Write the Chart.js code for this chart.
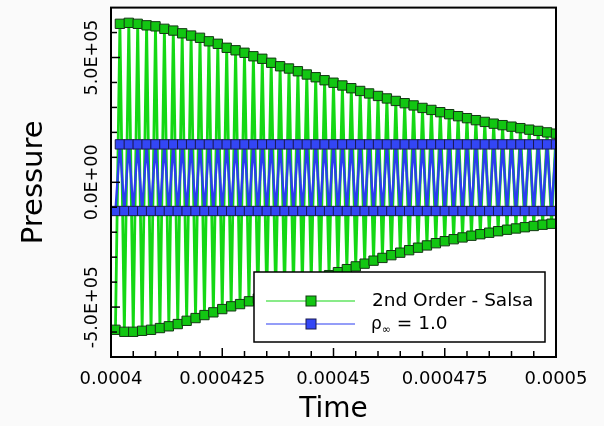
<!DOCTYPE html>
<html>
<head>
<meta charset="utf-8">
<script src="https://cdn.jsdelivr.net/npm/chart.js@4.4.1/dist/chart.umd.min.js"></script>
<style>
  html, body { margin: 0; padding: 0; background: #fafafa; }
  canvas { display: block; }
</style>
</head>
<body>
<canvas id="pressureChart" width="604" height="426"></canvas>
<script>
// sample times, microseconds
const troughTimes = [401, 403, 405, 407, 409, 411, 413, 415, 417, 419,
                     421, 423, 425, 427, 429, 431, 433, 435, 437, 439,
                     441, 443, 445, 447, 449, 451, 453, 455, 457, 459,
                     461, 463, 465, 467, 469, 471, 473, 475, 477, 479,
                     481, 483, 485, 487, 489, 491, 493, 495, 497, 499];
const peakTimes   = [402, 404, 406, 408, 410, 412, 414, 416, 418, 420,
                     422, 424, 426, 428, 430, 432, 434, 436, 438, 440,
                     442, 444, 446, 448, 450, 452, 454, 456, 458, 460,
                     462, 464, 466, 468, 470, 472, 474, 476, 478, 480,
                     482, 484, 486, 488, 490, 492, 494, 496, 498, 500];

// 2nd Order - Salsa
const greenPeaks = [635000, 639000, 635000, 629000, 625000, 615000, 608000, 597000, 588000, 579000,
                    565000, 555000, 539000, 529000, 519000, 505000, 495000, 479000, 465000, 456000,
                    445000, 432000, 421000, 409000, 399000, 388000, 377000, 366000, 356000, 346000,
                    336000, 326000, 317000, 308000, 298000, 290000, 281000, 273000, 265000, 257000,
                    249000, 242000, 235000, 229000, 223000, 217000, 211000, 206000, 200000, 195000];
const greenTroughs = [-591000, -599000, -599000, -595000, -591000, -584000, -577000, -568000, -555000, -544000,
                      -532000, -521000, -508000, -497000, -488000, -477000, -466000, -454000, -443000, -431000,
                      -420000, -408000, -396000, -384000, -372000, -360000, -348000, -337000, -326000, -314000,
                      -303000, -292000, -282000, -272000, -262000, -253000, -244000, -236000, -228000, -221000,
                      -214000, -208000, -202000, -196000, -190000, -185000, -180000, -175000, -170000, -166000];

// rho_inf = 1.0
const bluePeaks = [152000, 152000, 152000, 152000, 152000, 152000, 152000, 152000, 152000, 152000,
                   152000, 152000, 152000, 152000, 152000, 152000, 152000, 152000, 152000, 152000,
                   152000, 152000, 152000, 152000, 152000, 152000, 152000, 152000, 152000, 152000,
                   152000, 152000, 152000, 152000, 152000, 152000, 152000, 152000, 152000, 152000,
                   152000, 152000, 152000, 152000, 152000, 152000, 152000, 152000, 152000, 152000];
const blueTroughs = [-115000, -115000, -115000, -115000, -115000, -115000, -115000, -115000, -115000, -115000,
                     -115000, -115000, -115000, -115000, -115000, -115000, -115000, -115000, -115000, -115000,
                     -115000, -115000, -115000, -115000, -115000, -115000, -115000, -115000, -115000, -115000,
                     -115000, -115000, -115000, -115000, -115000, -115000, -115000, -115000, -115000, -115000,
                     -115000, -115000, -115000, -115000, -115000, -115000, -115000, -115000, -115000, -115000];

const seriesNames = ['2nd Order - Salsa', 'ρ∞ = 1.0'];
const xTickValues = [0.0004, 0.000425, 0.00045, 0.000475, 0.0005];
const xTickLabels = ['0.0004', '0.000425', '0.00045', '0.000475', '0.0005'];
const yTickValues = [-500000, 0, 500000];
const yTickLabels = ['-5.0E+05', '0.0E+00', '5.0E+05'];

const FONT = '"DejaVu Sans", sans-serif';
const green = '#14d814';
const blue = '#2b3cf2';

function zigzag(tLow, low, tHigh, high) {
    const pts = [];
    for (let i = 0; i < tLow.length; i++) {
        pts.push({ x: tLow[i] * 1e-6, y: low[i] });
        if (i < tHigh.length) pts.push({ x: tHigh[i] * 1e-6, y: high[i] });
    }
    return pts;
}

// axis frame, inward ticks, rotated y labels and the boxed legend
const framePlugin = {
    id: 'frame',
    beforeDraw(chart) {
        const { ctx, chartArea: a } = chart;
        ctx.save();
        ctx.fillStyle = '#fafafa';
        ctx.fillRect(0, 0, chart.width, chart.height);
        ctx.fillStyle = '#ffffff';
        ctx.fillRect(a.left, a.top, a.right - a.left, a.bottom - a.top);
        ctx.restore();
    },
    afterDatasetsDraw(chart) {
        const { ctx, chartArea: a, scales: { x, y } } = chart;
        ctx.save();
        ctx.strokeStyle = '#000';
        ctx.lineWidth = 1.5;

        // x ticks (minor every 5e-6)
        for (let i = 0; i <= 20; i++) {
            const px = x.getPixelForValue(0.0004 + i * 0.000005);
            const len = i % 5 === 0 ? 9 : 6;
            ctx.beginPath();
            ctx.moveTo(px, a.bottom);
            ctx.lineTo(px, a.bottom - len);
            ctx.stroke();
        }
        // y ticks (minor every 1e5)
        for (let i = -6; i <= 6; i++) {
            const py = y.getPixelForValue(i * 100000);
            const len = i % 5 === 0 ? 9 : 6;
            ctx.beginPath();
            ctx.moveTo(a.left, py);
            ctx.lineTo(a.left + len, py);
            ctx.stroke();
        }

        ctx.lineWidth = 2;
        ctx.strokeRect(a.left, a.top, a.right - a.left, a.bottom - a.top);

        // y tick labels, reading upward
        ctx.fillStyle = '#000';
        ctx.font = '17.5px ' + FONT;
        ctx.textAlign = 'center';
        ctx.textBaseline = 'middle';
        yTickValues.forEach((v, i) => {
            ctx.save();
            ctx.translate(92, y.getPixelForValue(v));
            ctx.rotate(-Math.PI / 2);
            ctx.fillText(yTickLabels[i], 0, 0);
            ctx.restore();
        });

        // legend box
        const lx = 254, ly = 272, lw = 291, lh = 70;
        ctx.fillStyle = '#ffffff';
        ctx.fillRect(lx, ly, lw, lh);
        ctx.lineWidth = 1.5;
        ctx.strokeStyle = '#000';
        ctx.strokeRect(lx, ly, lw, lh);

        const rows = [301, 324];
        chart.data.datasets.forEach((ds, i) => {
            const ry = rows[i];
            ctx.strokeStyle = ds.borderColor;
            ctx.lineWidth = 1.2;
            ctx.beginPath();
            ctx.moveTo(266, ry);
            ctx.lineTo(355, ry);
            ctx.stroke();
            ctx.fillStyle = ds.pointBackgroundColor;
            ctx.fillRect(306, ry - 5, 10, 10);
            ctx.strokeStyle = ds.pointBorderColor;
            ctx.lineWidth = 1;
            ctx.strokeRect(306, ry - 5, 10, 10);

            ctx.fillStyle = '#000';
            ctx.textAlign = 'left';
            ctx.textBaseline = 'middle';
            const name = seriesNames[i];
            const sub = name.indexOf('∞');
            if (sub < 0) {
                ctx.font = '18.5px ' + FONT;
                ctx.fillText(name, 372, ry);
            } else {
                ctx.font = '17px ' + FONT;
                ctx.fillText(name.slice(0, sub), 371, ry + 1);
                let cx = 371 + ctx.measureText(name.slice(0, sub)).width;
                ctx.font = '11px ' + FONT;
                ctx.fillText('∞', cx, ry + 6);
                cx += ctx.measureText('∞').width;
                ctx.font = '18.5px ' + FONT;
                ctx.fillText(name.slice(sub + 1), cx, ry);
            }
        });
        ctx.restore();
    }
};

new Chart(document.getElementById('pressureChart'), {
    type: 'line',
    data: {
        datasets: [
            {
                label: seriesNames[0],
                data: zigzag(troughTimes, greenTroughs, peakTimes, greenPeaks),
                borderColor: green,
                borderWidth: 2.8,
                pointStyle: 'rect',
                pointRadius: 6.6,
                pointBackgroundColor: '#12c612',
                pointBorderColor: '#123812',
                pointBorderWidth: 1,
                tension: 0,
                clip: 0,
                order: 1
            },
            {
                label: seriesNames[1],
                data: zigzag(troughTimes, blueTroughs, peakTimes, bluePeaks),
                borderColor: blue,
                borderWidth: 2.4,
                pointStyle: 'rect',
                pointRadius: 6.6,
                pointBackgroundColor: '#3346f5',
                pointBorderColor: '#1a1a50',
                pointBorderWidth: 1,
                tension: 0,
                clip: 0,
                order: 0
            }
        ]
    },
    options: {
        responsive: false,
        animation: false,
        events: [],
        layout: { padding: { top: 7, right: 48, left: 0, bottom: 0 } },
        plugins: {
            legend: { display: false },
            tooltip: { enabled: false }
        },
        scales: {
            x: {
                type: 'linear',
                min: 0.0004,
                max: 0.0005,
                grid: { display: false, drawTicks: false },
                border: { display: false },
                afterBuildTicks: (scale) => { scale.ticks = xTickValues.map(v => ({ value: v })); },
                afterFit: (scale) => { scale.height = 69; },
                ticks: {
                    color: '#000',
                    font: { family: FONT, size: 18 },
                    padding: 12,
                    maxRotation: 0,
                    autoSkip: false,
                    callback: (value, index) => xTickLabels[index]
                },
                title: {
                    display: true,
                    text: 'Time',
                    color: '#000',
                    font: { family: FONT, size: 28, lineHeight: 1 },
                    padding: { top: 0, bottom: 2 }
                }
            },
            y: {
                type: 'linear',
                min: -700000,
                max: 700000,
                grid: { display: false, drawTicks: false },
                border: { display: false },
                afterBuildTicks: (scale) => { scale.ticks = yTickValues.map(v => ({ value: v })); },
                afterFit: (scale) => { scale.width = 111; },
                ticks: { display: false },
                title: {
                    display: true,
                    text: 'Pressure',
                    color: '#000',
                    font: { family: FONT, size: 29, lineHeight: 1 },
                    padding: { top: 20, bottom: 0 }
                }
            }
        }
    },
    plugins: [framePlugin]
});
</script>
</body>
</html>
